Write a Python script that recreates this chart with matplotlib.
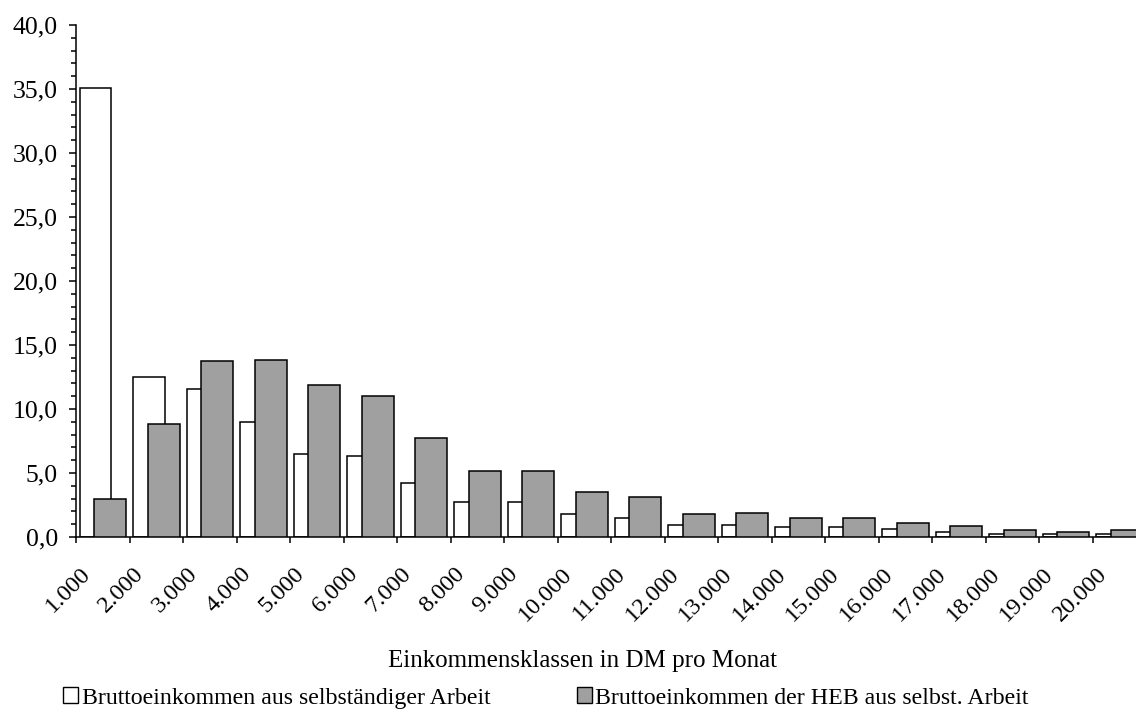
import numpy as np
import matplotlib.pyplot as plt
import matplotlib.transforms as mtransforms
from matplotlib.patches import Patch
from matplotlib.ticker import MultipleLocator, FuncFormatter

# data: Anteil in % je Einkommensklasse
klassen = ['1.000', '2.000', '3.000', '4.000', '5.000', '6.000', '7.000', '8.000', '9.000', '10.000',
           '11.000', '12.000', '13.000', '14.000', '15.000', '16.000', '17.000', '18.000', '19.000', '20.000']
selbst = [35.1, 12.5, 11.6, 9.0, 6.5, 6.3, 4.2, 2.7, 2.7, 1.8,
          1.5, 0.95, 0.95, 0.8, 0.8, 0.65, 0.4, 0.25, 0.25, 0.25]
heb = [3.0, 8.8, 13.75, 13.8, 11.9, 11.0, 7.7, 5.15, 5.15, 3.5,
       3.15, 1.78, 1.85, 1.5, 1.5, 1.1, 0.86, 0.52, 0.38, 0.52]

label_selbst = 'Bruttoeinkommen aus selbständiger Arbeit'
label_heb = 'Bruttoeinkommen der HEB aus selbst. Arbeit'
xlabel = 'Einkommensklassen in DM pro Monat'

plt.rcParams['font.family'] = ['Liberation Serif', 'DejaVu Serif']

fig = plt.figure(figsize=(11.36, 7.11), dpi=100)
ax = fig.add_axes([76/1136, 174/711, 1070/1136, 512/711])

x = np.arange(len(klassen))
w = 0.59
ax.bar(x + 0.365, selbst, width=w, color='white', edgecolor='black', linewidth=1.1, zorder=2)
ax.bar(x + 0.64, heb, width=w, color='#a0a0a0', edgecolor='black', linewidth=1.1, zorder=3)

ax.set_xlim(0, len(klassen))
ax.set_ylim(0, 40)

for s in ['top', 'right']:
    ax.spines[s].set_visible(False)
ax.spines['left'].set_linewidth(1.1)
ax.spines['bottom'].set_linewidth(1.1)

# y axis
ax.yaxis.set_major_locator(MultipleLocator(5))
ax.yaxis.set_minor_locator(MultipleLocator(1))
ax.yaxis.set_major_formatter(FuncFormatter(lambda v, p: f'{v:.1f}'.replace('.', ',')))
ax.tick_params(axis='y', which='major', length=5, width=1.1, labelsize=18.5, pad=8)
ax.tick_params(axis='y', which='minor', length=3.6, width=1.1)

# x axis: ticks at class boundaries, labels near the left of each class
ax.set_xticks(np.arange(len(klassen) + 1))
ax.set_xticklabels([])
ax.set_xticks(x + 0.5, minor=True)
ax.set_xticklabels(klassen, minor=True, rotation=45, ha='right', rotation_mode='anchor', fontsize=17.5)
ax.tick_params(axis='x', which='major', length=4.5, width=1.1)
ax.tick_params(axis='x', which='minor', length=0, pad=19)
shift = mtransforms.ScaledTranslation(-23/100, 0, fig.dpi_scale_trans)
for lab in ax.get_xticklabels(minor=True):
    lab.set_transform(lab.get_transform() + shift)

ax.set_xlabel(xlabel, fontsize=18)
ax.xaxis.label.set_va('center')
ax.xaxis.set_label_coords((583 - 76) / 1070, (537 - 661) / 512)

handles = [Patch(facecolor='white', edgecolor='black', linewidth=1.0),
           Patch(facecolor='#a0a0a0', edgecolor='black', linewidth=1.0)]
fig.legend(handles, [label_selbst, label_heb], loc='center', bbox_to_anchor=(546/1136, 1 - 698/711),
           ncol=2, frameon=False, fontsize=17.2, handlelength=0.64, handleheight=0.64,
           handletextpad=0.15, columnspacing=3.6, borderpad=0, borderaxespad=0)

fig.savefig('out.png', dpi=100)
